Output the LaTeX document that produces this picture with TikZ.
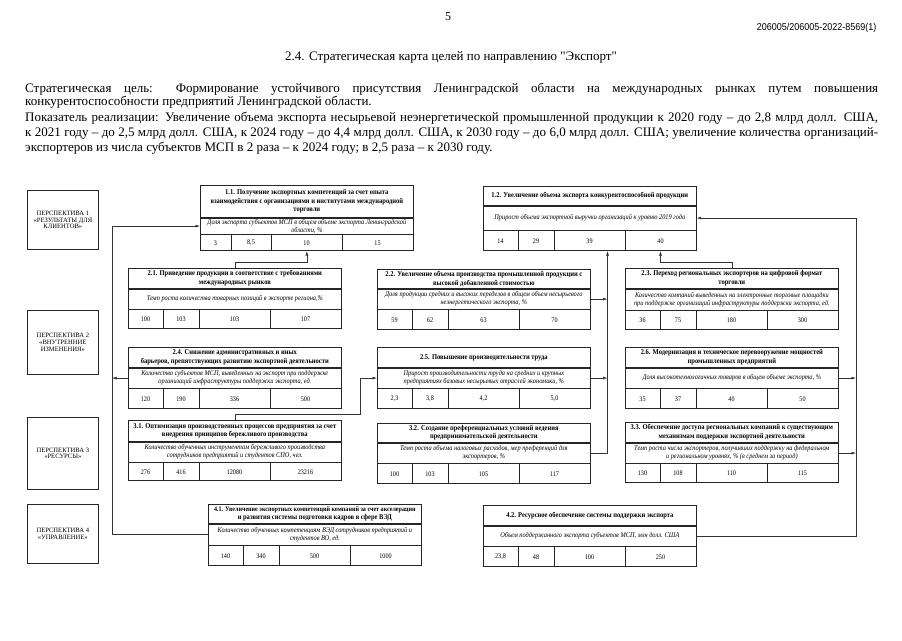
\documentclass[tikz,border=0pt]{standalone}
\usepackage{fontspec}
\setmainfont[Ligatures=TeXOff]{Liberation Serif}
\newfontfamily\boxfont[FakeStretch=0.88,Ligatures=TeXOff]{Liberation Serif}
\newfontfamily\codefont[FakeStretch=0.9]{Liberation Sans}
\usetikzlibrary{arrows.meta,calc}
\newcommand\gbox[8]{%
  \node[ttl, minimum height=#4pt] (#1t) at (#2,#3) {#7};
  \node[itl, minimum height=#5pt] (#1i) at (#1t.south west) {#8};
  \node[nrow, minimum height=#6pt] (#1n) at (#1i.south west) {};
}
\newcommand\gnums[6][35]{%
  \draw[frame] ($(#2n.north west)+(#1,0)$) -- ($(#2n.south west)+(#1,0)$);
  \draw[frame] ($(#2n.north west)+(71,0)$) -- ($(#2n.south west)+(71,0)$);
  \draw[frame] ($(#2n.north west)+(142,0)$) -- ($(#2n.south west)+(142,0)$);
  \node[numtxt] (#2a) at ($(#2n.west)+({#1/2},0)$) {#3};
  \node[numtxt] (#2b) at ($(#2n.west)+({(#1+71)/2},0)$) {#4};
  \node[numtxt] (#2c) at ($(#2n.west)+(106.5,0)$) {#5};
  \node[numtxt] (#2d) at ($(#2n.west)+(177.5,0)$) {#6};
}
\begin{document}
\begin{tikzpicture}[x=1pt,y=-1pt,
  frame/.style={draw=black!85, line width=0.7pt},
  bx/.style={frame, inner xsep=1pt, inner ysep=0pt, minimum width=213pt, anchor=north west, align=center},
  ttl/.style={bx, font=\boxfont\fontsize{7.4}{8.6}\selectfont\bfseries},
  itl/.style={bx, font=\boxfont\fontsize{7.2}{7.9}\selectfont\itshape},
  nrow/.style={bx},
  numtxt/.style={font=\boxfont\fontsize{7}{8}\selectfont, inner sep=0pt},
  persp/.style={frame, minimum width=71pt, align=center, anchor=north west, font=\fontsize{6.6}{6.9}\selectfont},
  conn/.style={draw=black!80, line width=0.6pt},
  arr/.style={conn, -{Latex[length=4.5pt,width=3pt]}},
  body/.style={anchor=base west, font=\fontsize{13}{15}\selectfont, inner sep=0pt},
]
\fill[white] (0,0) rectangle (902,640);
\useasboundingbox (0,0) rectangle (902,640);

% header
\node[font=\fontsize{12}{14}\selectfont] (pg) at (448,17) {5};
\node[font=\codefont\fontsize{10}{11}\selectfont, anchor=east] (code) at (880,28) {206005/206005-2022-8569(1)};
\node[font=\fontsize{13}{15}\selectfont] (title) at (451,57) {2.4. Стратегическая карта целей по направлению "Экспорт"};

\node[body] (l1) at (25,92) {\makebox[853pt][s]{Стратегическая цель: Формирование устойчивого присутствия Ленинградской области на международных рынках путем повышения}};
\node[body] (l2) at (25,105) {конкурентоспособности предприятий Ленинградской области.};
\node[body] (l3) at (25,121) {\makebox[853pt][s]{Показатель реализации: Увеличение объема экспорта несырьевой неэнергетической промышленной продукции к 2020 году – до 2,8 млрд долл. США,}};
\node[body] (l4) at (25,136) {\makebox[853pt][s]{к 2021 году – до 2,5 млрд долл. США, к 2024 году – до 4,4 млрд долл. США, к 2030 году – до 6,0 млрд долл. США; увеличение количества организаций-}};
\node[body] (l5) at (25,151) {экспортеров из числа субъектов МСП в 2 раза – к 2024 году; в 2,5 раза – к 2030 году.};

% perspectives
\node[persp, minimum height=59pt] (p1) at (27,190) {ПЕРСПЕКТИВА 1\\«РЕЗУЛЬТАТЫ ДЛЯ\\КЛИЕНТОВ»};
\node[persp, minimum height=64pt] (p2) at (27,310) {ПЕРСПЕКТИВА 2\\«ВНУТРЕННИЕ\\ИЗМЕНЕНИЯ»};
\node[persp, minimum height=72pt] (p3) at (27,417) {ПЕРСПЕКТИВА 3\\«РЕСУРСЫ»};
\node[persp, minimum height=59pt] (p4) at (27,504) {ПЕРСПЕКТИВА 4\\«УПРАВЛЕНИЕ»};

% goal boxes
\gbox{b11}{200}{185}{32}{16}{16}{1.1. Получение экспортных компетенций за счет опыта\\взаимодействия с организациями и институтами международной\\торговли}{Доля экспорта субъектов МСП в общем объеме экспорта Ленинградской\\области, \%}
\gnums[31]{b11}{3}{8,5}{10}{15}

\gbox{b12}{483}{186}{19}{24}{20}{1.2. Увеличение объема экспорта конкурентоспособной продукции}{Прирост объема экспортной выручки организаций к уровню 2019 года}
\gnums{b12}{14}{29}{39}{40}

\gbox{b21}{128}{268}{20}{20}{19}{2.1. Приведение продукции в соответствие с требованиями\\международных рынков}{Темп  роста количества товарных позиций в экспорте региона,\%}
\gnums{b21}{100}{103}{103}{107}

\gbox{b22}{377}{269}{19}{20}{20}{2.2. Увеличение объема производства промышленной продукции с\\высокой добавленной стоимостью}{Доля продукции средних и высоких переделов в общем объем несырьевого\\неэнергетического экспорта, \%}
\gnums{b22}{59}{62}{63}{70}

\gbox{b23}{625}{268}{20}{21}{19}{2.3. Переход региональных экспортеров на цифровой формат\\торговли}{Количество компаний выведенных на электронные торговые площадки\\при поддержке организаций  инфраструктуры поддержки экспорта, ед.}
\gnums{b23}{36}{75}{180}{300}

\gbox{b24}{128}{347}{20}{20}{20}{2.4. Снижение административных и иных\\барьеров, препятствующих развитию экспортной деятельности}{Количество субъектов МСП, выведенных на экспорт при поддержке\\организаций инфраструктуры поддержки экспорта, ед.}
\gnums{b24}{120}{190}{336}{500}

\gbox{b25}{377}{347}{20}{20}{20}{2.5.  Повышение производительности труда}{Прирост производительности труда на средних и крупных\\предприятиях базовых несырьевых отраслей экономики, \%}
\gnums{b25}{2,3}{3,8}{4,2}{5,0}

\gbox{b26}{625}{347}{20}{20}{20}{2.6. Модернизация и техническое перевооружение мощностей\\промышленных предприятий}{Доля высокотехнологичных товаров в общем объеме экспорта, \%}
\gnums{b26}{35}{37}{40}{50}

\gbox{b31}{128}{420}{21}{20}{18}{3.1. Оптимизация производственных процессов предприятия за счет\\внедрения принципов бережливого производства}{Количество обученных инструментам бережливого производства\\сотрудников предприятий и студентов СПО, чел.}
\gnums{b31}{276}{416}{12080}{23216}

\gbox{b32}{377}{423}{19}{20}{20}{3.2. Создание преференциальных условий ведения\\предпринимательской деятельности}{Темп роста объема налоговых расходов, мер преференций для\\экспортеров, \%}
\gnums{b32}{100}{103}{105}{117}

\gbox{b33}{625}{422}{20}{20}{19}{3.3. Обеспечение доступа региональных компаний к существующим\\механизмам поддержки экспортной деятельности}{Темп роста числа экспортеров, получивших поддержку на федеральном\\и региональном уровнях, \% (в среднем за период)}
\gnums{b33}{130}{108}{110}{115}

\gbox{b41}{208}{504}{19}{21}{20}{\fontsize{6.9}{8.4}\selectfont 4.1. Увеличение экспортных компетенций компаний за счет акселерации\\и развития системы подготовки кадров в сфере ВЭД}{Количество  обученных компетенциям ВЭД сотрудников предприятий и\\студентов ВО, ед.}
\gnums{b41}{140}{340}{500}{1000}

\gbox{b42}{483}{505}{20}{20}{20}{4.2. Ресурсное обеспечение системы поддержки экспорта}{Объем поддержанного экспорта субъектов МСП, млн долл. США}
\gnums{b42}{23,8}{48}{100}{250}

% trunks
\coordinate (lt) at (112,0);
\coordinate (mt) at (607.5,0);
\coordinate (rt) at (856,0);
\coordinate (m1) at (360,0);

% connectors
\draw[arr] (b41i.west) -| (lt |- b11i.west) -- (b11i.west);
\draw[arr] (b24i.west) -- (lt |- b24i.west);
\draw[arr] (b21t.north) -- ++(0,-6) -| (b11n.south);
\draw[arr] (b31t.north) -- ++(0,-6) -| (m1 |- b25i.west) -- (b25i.west);
\draw[arr] (b32i.east) -| (mt |- b12n.south);
\draw[arr] (b22i.east) -- (mt |- b22i.east);
\draw[arr] (b25i.east) -- (mt |- b25i.east);
\draw[arr] (b23t.north) -- ++(0,-6) -| (b12d |- b12n.south);
\draw[arr] (b42i.east) -| (rt |- b12i.east) -- (b12i.east);
\draw[arr] (b26i.east) -- (rt |- b26i.east);
\draw[arr] (b33i.east) -- (rt |- b33i.east);
\end{tikzpicture}
\end{document}
